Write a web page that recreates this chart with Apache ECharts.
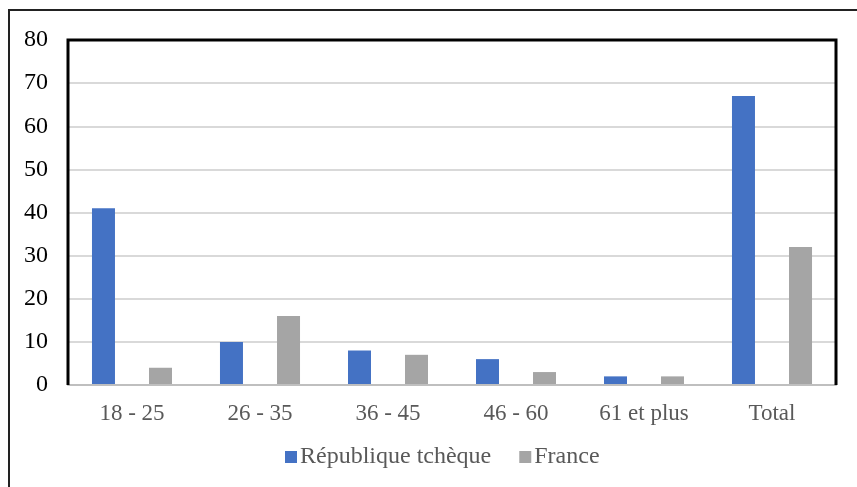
<!DOCTYPE html>
<html>
<head>
<meta charset="utf-8">
<script src="https://cdn.jsdelivr.net/npm/echarts@6/dist/echarts.min.js"></script>
<style>
  html, body { margin: 0; padding: 0; background: #fff; }
  #chart { width: 857px; height: 487px; }
</style>
</head>
<body>
<div id="chart"></div>
<script>
const categories = ['18 - 25', '26 - 35', '36 - 45', '46 - 60', '61 et plus', 'Total']
const czech = [41, 10, 8, 6, 2, 67]
const france = [4, 16, 7, 3, 2, 32]

const serif = '"Liberation Serif", "Times New Roman", serif'
const chart = echarts.init(document.getElementById('chart'))

chart.setOption({
  animation: false,
  backgroundColor: '#fff',
  grid: { left: 68, right: 21, top: 40, bottom: 102 },
  legend: {
    left: 280,
    top: 440,
    itemWidth: 12,
    itemHeight: 12,
    itemGap: 28,
    icon: 'rect',
    textStyle: { fontFamily: serif, fontSize: 24, color: '#595959', padding: [0, 0, 0, -2] },
    data: ['République tchèque', 'France'],
  },
  xAxis: {
    type: 'category',
    data: categories,
    axisTick: { show: false },
    axisLine: { lineStyle: { color: '#bfbfbf', width: 2 } },
    axisLabel: { fontFamily: serif, fontSize: 23, color: '#595959', margin: 17 },
    z: 5,
  },
  yAxis: {
    type: 'value',
    min: 0,
    max: 80,
    interval: 10,
    axisLine: { show: false },
    axisTick: { show: false },
    axisLabel: { fontFamily: serif, fontSize: 24, color: '#000', margin: 20 },
    splitLine: { lineStyle: { color: '#d9d9d9', width: 2 } },
  },
  series: [
    {
      name: 'République tchèque',
      type: 'bar',
      data: czech,
      barWidth: 23,
      barGap: '148%',
      barCategoryGap: '37.5%',
      itemStyle: { color: '#4472c4' },
    },
    {
      name: 'France',
      type: 'bar',
      data: france,
      barWidth: 23,
      itemStyle: { color: '#a5a5a5' },
    },
  ],
  graphic: [
    {
      type: 'rect',
      shape: { x: 9, y: 10, width: 860, height: 490 },
      style: { fill: 'none', stroke: '#222', lineWidth: 2 },
      silent: true,
    },
    {
      type: 'polyline',
      shape: { points: [[68, 385], [68, 40], [836, 40], [836, 385]] },
      style: { fill: 'none', stroke: '#000', lineWidth: 3 },
      z: 10,
      silent: true,
    },
  ],
})
</script>
</body>
</html>
